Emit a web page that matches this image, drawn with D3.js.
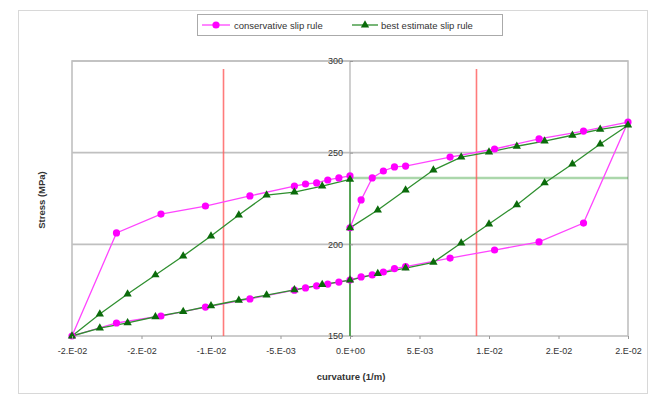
<!DOCTYPE html>
<html><head><meta charset="utf-8">
<script src="https://cdn.jsdelivr.net/npm/d3@7"></script>
<style>body{margin:0;background:#fff}svg{display:block}text{font-family:"Liberation Sans",Arial,sans-serif}</style>
</head><body><svg id="c" width="650" height="396"></svg>
<script>
// ---- data ----
const consX = [0,0.0008,0.0016,0.0024,0.0032,0.004,0.0072,0.0104,0.0136,0.0168,0.02,
  0.0168,0.0136,0.0104,0.0072,0.004,0.0032,0.0024,0.0016,0.0008,0,
  -0.0008,-0.0016,-0.0024,-0.0032,-0.004,-0.0072,-0.0104,-0.0136,-0.0168,-0.02,
  -0.0168,-0.0136,-0.0104,-0.0072,-0.004,-0.0032,-0.0024,-0.0016,-0.0008,0];
const consY = [209,224.2,236.2,240,242.2,242.7,247.6,252,257.5,261.8,266.7,
  211.6,201.3,196.9,192.5,187.8,186.8,184.9,183.3,182.2,180.5,
  179.4,178.3,177.3,176.2,175.0,170.2,165.8,160.9,157.1,150,
  206.2,216.5,220.9,226.4,231.8,232.9,233.5,235.1,236.2,237.3];
const bestX = [0,0.002,0.004,0.006,0.008,0.01,0.012,0.014,0.016,0.018,0.02,
  0.018,0.016,0.014,0.012,0.01,0.008,0.006,0.004,0.002,0,
  -0.002,-0.004,-0.006,-0.008,-0.01,-0.012,-0.014,-0.016,-0.018,-0.02,
  -0.018,-0.016,-0.014,-0.012,-0.01,-0.008,-0.006,-0.004,-0.002,0];
const bestY = [209,218.7,229.6,240.5,247.6,250.3,253.5,256.3,259.5,262.7,265,
  254.7,243.8,233.5,221.5,211.1,200.7,190.2,187.0,184.0,180.5,
  178.0,175.2,172.3,169.5,166.5,163.3,160.5,157.2,154.3,150,
  162.0,172.9,183.3,193.6,204.5,216.0,226.9,228.5,231.8,235.4];
const redX = [-0.0091, 0.0091];
const redY = [150, 295.6];
const yieldX = [0, 0, 0.02];
const yieldY = [150, 236.2, 236.2];
const xTicks = [-0.02,-0.015,-0.01,-0.005,0,0.005,0.01,0.015,0.02];
const xTickLabels = ["-2.E-02","-2.E-02","-1.E-02","-5.E-03","0.E+00","5.E-03","1.E-02","2.E-02","2.E-02"];
const yTicks = [150,200,250,300];
const seriesNames = ["conservative slip rule","best estimate slip rule"];

// ---- chart ----
const svg = d3.select("#c");
const L=72,R=628,T=61,B=336;
const x = d3.scaleLinear().domain([-0.02,0.02]).range([L,R]);
const y = d3.scaleLinear().domain([150,300]).range([B,T]);
const grey="#c0c0c0";

svg.append("rect").attr("x",18.5).attr("y",10.5).attr("width",629).attr("height",383)
  .attr("fill","none").attr("stroke","#d8d8d8");

// gridlines
svg.append("g").selectAll("line").data(yTicks.slice(1)).join("line")
  .attr("x1",L).attr("x2",R).attr("y1",d=>y(d)).attr("y2",d=>y(d))
  .attr("stroke",grey).attr("stroke-width",1.6);
// frame
svg.append("rect").attr("x",L).attr("y",T).attr("width",R-L).attr("height",B-T)
  .attr("fill","none").attr("stroke",grey).attr("stroke-width",1.6);

// y axis line at x=0
svg.append("line").attr("x1",x(0)).attr("x2",x(0)).attr("y1",T).attr("y2",B)
  .attr("stroke","#b0b0b0").attr("stroke-width",1.2);

const line = d3.line().x(d=>x(d[0])).y(d=>y(d[1]));

// yield reference line: vertical leg solid, horizontal leg lighter
const yieldPts = yieldX.map((v,i)=>[v,yieldY[i]]);
svg.append("path").attr("d",line(yieldPts.slice(1)))
  .attr("fill","none").attr("stroke","#2e9a2e").attr("stroke-opacity",0.4).attr("stroke-width",2.6);
svg.append("path").attr("d",line(yieldPts.slice(0,2)))
  .attr("fill","none").attr("stroke","#3a9a3a").attr("stroke-width",1.6);

// red lines
redX.forEach(v=>{
  svg.append("line").attr("x1",x(v)).attr("x2",x(v)).attr("y1",y(redY[0])).attr("y2",y(redY[1]))
    .attr("stroke","#ff5a5a").attr("stroke-opacity",0.8).attr("stroke-width",1.6);
});

const consData = consX.map((v,i)=>[v,consY[i]]);
const bestData = bestX.map((v,i)=>[v,bestY[i]]);

svg.append("path").attr("d",line(consData)).attr("fill","none").attr("stroke","#ff44ff").attr("stroke-width",1.3);
svg.append("path").attr("d",line(bestData)).attr("fill","none").attr("stroke","#2f8f2f").attr("stroke-width",1.3);

svg.append("g").selectAll("circle").data(consData).join("circle")
  .attr("cx",d=>x(d[0])).attr("cy",d=>y(d[1])).attr("r",3.6).attr("fill","#ff00ff");
const tri = d3.symbol().type(d3.symbolTriangle).size(30);
svg.append("g").selectAll("path").data(bestData).join("path")
  .attr("d",tri).attr("transform",d=>`translate(${x(d[0])},${y(d[1])})`).attr("fill","#0b6b0b");

// axes
const xAxis = d3.axisBottom(x).tickValues(xTicks).tickFormat((d,i)=>xTickLabels[i]).tickSize(3).tickPadding(9);
const gx = svg.append("g").attr("transform",`translate(0,${B})`).call(xAxis);
gx.select(".domain").remove();
gx.selectAll("line").attr("stroke","#999");
gx.selectAll("text").attr("font-size",9).attr("fill","#333");

const yAxis = d3.axisLeft(y).tickValues(yTicks).tickSize(-3).tickPadding(7);
const gy = svg.append("g").attr("transform",`translate(${x(0)},0)`).call(yAxis);
gy.select(".domain").remove();
gy.selectAll("line").attr("stroke","#999");
gy.selectAll("text").attr("font-size",9).attr("fill","#333");

// titles
svg.append("text").attr("x",351).attr("y",380).attr("text-anchor","middle")
  .attr("font-size",9.5).attr("font-weight","bold").attr("fill","#333").text("curvature (1/m)");
svg.append("text").attr("transform","translate(45,200) rotate(-90)").attr("text-anchor","middle")
  .attr("font-size",9.5).attr("font-weight","bold").attr("fill","#333").text("Stress (MPa)");

// legend
const lg = svg.append("g");
lg.append("rect").attr("x",197.5).attr("y",14.5).attr("width",305).attr("height",21)
  .attr("fill","#fff").attr("stroke","#aaa");
lg.append("line").attr("x1",202).attr("x2",230).attr("y1",25).attr("y2",25).attr("stroke","#ff44ff").attr("stroke-width",1.3);
lg.append("circle").attr("cx",216).attr("cy",25).attr("r",3.6).attr("fill","#ff00ff");
lg.append("text").attr("x",234).attr("y",28.5).attr("font-size",9.5).attr("fill","#333").text(seriesNames[0]);
lg.append("line").attr("x1",352).attr("x2",378).attr("y1",25).attr("y2",25).attr("stroke","#2f8f2f").attr("stroke-width",1.3);
lg.append("path").attr("d",tri).attr("transform","translate(365,25)").attr("fill","#0b6b0b");
lg.append("text").attr("x",381).attr("y",28.5).attr("font-size",9.5).attr("fill","#333").text(seriesNames[1]);
</script></body></html>
